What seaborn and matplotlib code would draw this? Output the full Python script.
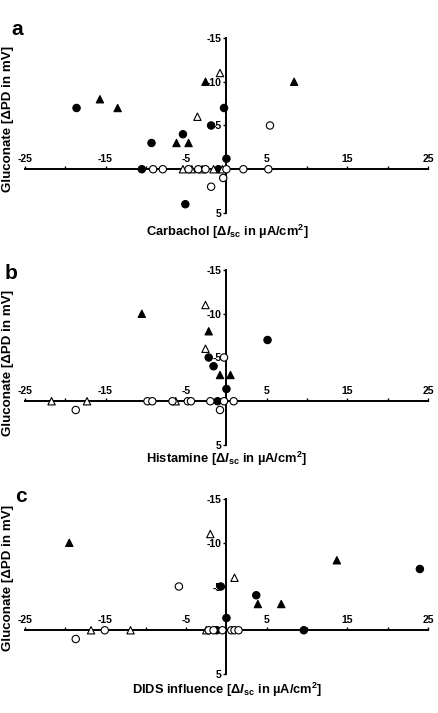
import seaborn as sns
import matplotlib.pyplot as plt
import pandas as pd

sns.set_style("white")
plt.rcParams['font.family'] = ['Liberation Sans', 'DejaVu Sans']
plt.rcParams['mathtext.fontset'] = 'custom'
plt.rcParams['mathtext.rm'] = 'Liberation Sans:bold'
plt.rcParams['mathtext.it'] = 'Liberation Sans:italic:bold'
plt.rcParams['mathtext.bf'] = 'Liberation Sans:bold'
for key in ['text.color', 'xtick.color', 'ytick.color', 'axes.labelcolor', 'axes.edgecolor']:
    plt.rcParams[key] = 'black'

# panel a - carbachol
a_filled_circle = [(-18.6, -7), (-9.3, -3), (-5.4, -4), (-1.9, -5), (-0.3, -7), (-5.1, 4),
                   (-10.5, 0), (-1.0, 0), (0, -1.2)]
a_filled_tri = [(-15.7, -8), (-13.5, -7), (-2.6, -10), (8.4, -10), (-6.2, -3), (-4.7, -3)]
a_open_tri = [(-0.8, -11), (-3.6, -6), (-5.4, 0), (-4.3, 0), (-3.0, 0), (-1.6, 0), (-0.5, 0)]
a_open_circle = [(5.4, -5), (-1.9, 2), (-0.4, 1), (-9.1, 0), (-7.9, 0), (-4.7, 0), (-3.5, 0),
                 (-2.6, 0), (0, 0), (2.1, 0), (5.2, 0)]

# panel b - histamine
b_filled_circle = [(-2.2, -5), (-1.6, -4), (5.1, -7), (0, -1.4), (-1.1, 0)]
b_filled_tri = [(-10.5, -10), (-2.2, -8), (-0.8, -3), (0.5, -3)]
b_open_tri = [(-2.6, -11), (-2.6, -6), (-21.7, 0), (-17.3, 0), (-6.3, 0)]
b_open_circle = [(-0.3, -5), (-18.7, 1), (-0.8, 1), (-9.8, 0), (-9.2, 0), (-6.7, 0), (-4.8, 0),
                 (-4.4, 0), (-2.0, 0), (-0.3, 0), (0.9, 0)]

# panel c - DIDS
c_filled_circle = [(24, -7), (3.7, -4), (-0.7, -5), (0, -1.4), (9.6, 0), (-1.2, 0)]
c_filled_tri = [(-19.5, -10), (13.7, -8), (3.9, -3), (6.8, -3)]
c_open_tri = [(-2.0, -11), (1.0, -6), (-16.8, 0), (-11.9, 0), (-2.5, 0)]
c_open_circle = [(-5.9, -5), (-18.7, 1), (-15.1, 0), (-2.2, 0), (-1.6, 0), (-0.5, 0),
                 (0.6, 0), (1.0, 0), (1.5, 0)]

x_ticks = [-25, -20, -15, -10, -5, 0, 5, 10, 15, 20, 25]
x_ticklabels = ["-25", "", "-15", "", "-5", "", "5", "", "15", "", "25"]
y_ticks = [-15, -10, -5, 0, 5]
y_ticklabels = ["-15", "-10", "-5", "", "5"]

isc = r"[$\Delta\it{I}_{\rm{sc}}$ in µA/cm$^{\rm{2}}$]"
# letter, x label, point sets, axes bottom, y label pos, x label offset, letter x/y
panels = [
    ("a", "Carbachol " + isc, [a_filled_circle, a_filled_tri, a_open_tri, a_open_circle],
     0.7013, 0.537, 0.0266, 0.027, 0.958),
    ("b", "Histamine " + isc, [b_filled_circle, b_filled_tri, b_open_tri, b_open_circle],
     0.3759, 0.47, 0.0196, 0.011, 0.617),
    ("c", "DIDS influence " + isc, [c_filled_circle, c_filled_tri, c_open_tri, c_open_circle],
     0.0547, 0.55, 0.023, 0.034, 0.304),
]
groups = ["fc", "ft", "ot", "oc"]
palette = {"fc": "black", "ft": "black", "ot": "white", "oc": "white"}
markers = {"fc": "o", "ft": "^", "ot": "^", "oc": "o"}

fig = plt.figure(figsize=(4.38, 7.13), dpi=100)

for letter, xlabel, sets, bottom, ylab_pos, xlab_off, let_x, let_y in panels:
    ax = fig.add_axes([0.057, bottom, 0.92, 0.2454])
    rows = []
    for g, pts in zip(groups, sets):
        for x, y in pts:
            rows.append({"x": x, "y": y, "g": g})
    df = pd.DataFrame(rows)
    sns.scatterplot(data=df, x="x", y="y", hue="g", style="g", palette=palette,
                    markers=markers, edgecolor="black", linewidth=0.8, s=28,
                    legend=False, clip_on=False, zorder=3, ax=ax)

    ax.set_xlim(-25, 25)
    ax.set_ylim(5, -15)
    ax.spines['left'].set_position(('data', 0))
    ax.spines['top'].set_position(('data', 0))
    ax.spines['right'].set_visible(False)
    ax.spines['bottom'].set_visible(False)
    for sp in ['left', 'top']:
        ax.spines[sp].set_linewidth(1.4)
    ax.xaxis.set_ticks_position('top')
    ax.yaxis.set_ticks_position('left')
    ax.set_xticks(x_ticks)
    ax.set_xticklabels(x_ticklabels)
    ax.set_yticks(y_ticks)
    ax.set_yticklabels(y_ticklabels)
    ax.tick_params(axis='both', direction='out', length=2.5, width=1, pad=1,
                   labelsize=7.5)
    for lab in ax.get_xticklabels() + ax.get_yticklabels():
        lab.set_fontweight('bold')
    ax.set_xlabel("")
    ax.set_ylabel("")
    ax.patch.set_visible(False)

    fig.text(0.518, bottom - xlab_off, xlabel, ha='center', va='center',
             fontsize=9.3, fontweight='bold')
    fig.text(0.019, bottom + 0.2454 * ylab_pos, "Gluconate [ΔPD in mV]", rotation=90,
             ha='center', va='center', fontsize=9.6, fontweight='bold')
    fig.text(let_x, let_y, letter, ha='left', va='center',
             fontsize=15, fontweight='bold')

fig.savefig("out.png", dpi=100)
